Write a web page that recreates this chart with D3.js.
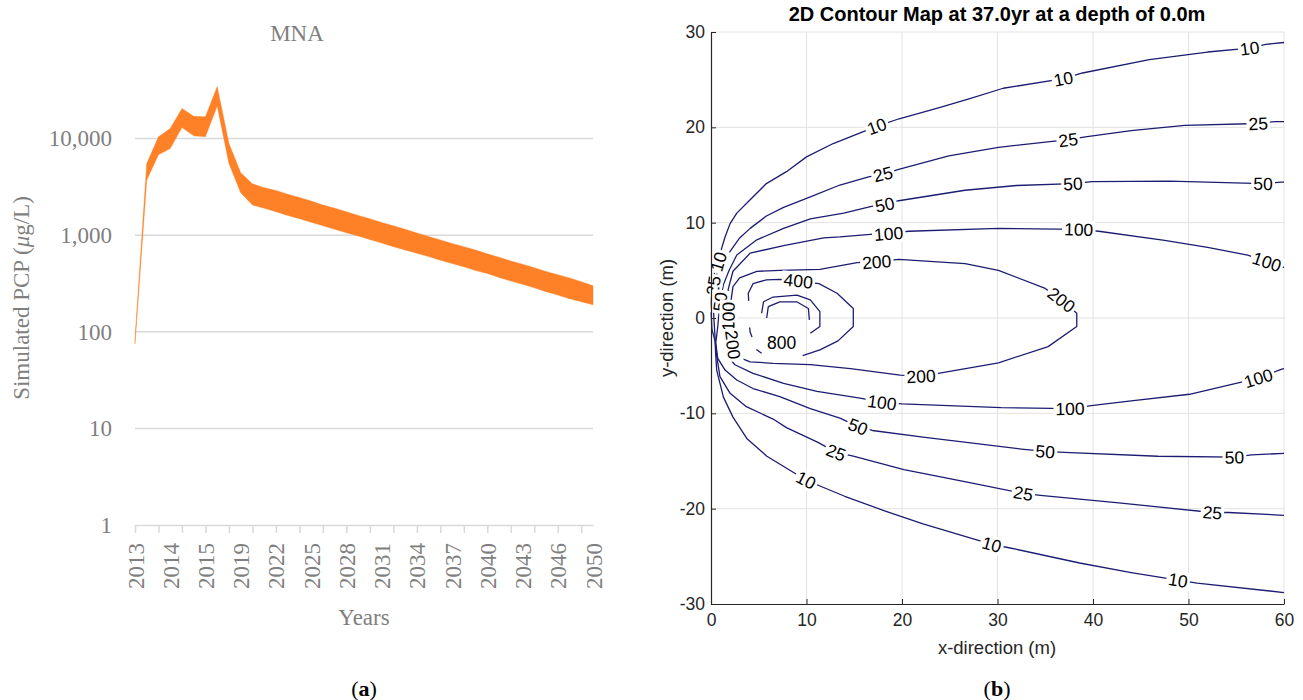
<!DOCTYPE html>
<html>
<head>
<meta charset="utf-8">
<script src="https://cdn.jsdelivr.net/npm/d3@7"></script>
<style>
  body { margin: 0; background: #fff; }
  svg { display: block; }
</style>
</head>
<body>
<svg id="fig" width="1303" height="700"></svg>
<script>
// ---------- (a) MNA: simulated PCP band ----------
const years = ['2013','2013','2013','2014','2014','2014','2015','2015','2016',
  '2019','2020','2021','2022','2023','2024','2025','2026','2027','2028','2029',
  '2030','2031','2032','2033','2034','2035','2036','2037','2038','2039',
  '2040','2041','2042','2043','2044','2045','2046','2047','2048','2050'];
const pcpUpper = [85, 5500, 10400, 12700, 20500, 17000, 16800, 34500, 8900, 4430,
  3400, 3100, 2900, 2650, 2450, 2250, 2050, 1900, 1750, 1600,
  1480, 1350, 1250, 1150, 1050, 970, 890, 820, 760, 700,
  640, 590, 540, 500, 460, 420, 390, 360, 330, 300];
const pcpLower = [75, 3730, 6770, 7900, 13000, 10650, 10440, 21700, 5520, 2750,
  2050, 1900, 1750, 1600, 1480, 1360, 1250, 1150, 1060, 980,
  900, 830, 760, 700, 650, 600, 550, 510, 470, 430,
  400, 365, 335, 310, 285, 260, 240, 220, 205, 190];
const pcpTicks = [1, 10, 100, 1000, 10000];

// ---------- (b) 2D contour map (x, y in m) ----------
const contour10 = [[60,-28.8],[50.9,-27.8],[48.9,-27.5],[44,-26.7],[38.6,-25.7],[31.2,-24.1],[29.4,-23.75],
  [22.2,-21.6],[18.1,-20.2],[14.0,-18.7],[11.6,-17.7],[9.95,-17.0],[8.3,-16.0],[5.85,-14.5],[3.8,-12.7],
  [2.3,-10.4],[1.3,-8.3],[0.6,-5.5],[0.5,-4.0],[0.42,-2.4],[0.1,-1.2],[0.02,0.5],[0.05,2.5],[0.2,4.2],
  [0.77,5.9],[1.05,7.1],[1.47,8.5],[2.0,9.9],[2.7,11.0],[4.1,12.4],[5.8,14.1],[7.9,15.35],[10.0,16.9],
  [12.8,18.3],[15.95,19.55],[17.35,20.1],[19.7,20.9],[24.0,22.1],[27.1,23.0],[30.6,24.1],[36.9,25.1],
  [38.9,25.7],[45.9,27.1],[52.0,27.9],[56.4,28.3],[58.1,28.7],[60,28.9]];
const contour25 = [[60,-20.7],[54.2,-20.4],[52.5,-20.4],[42.7,-19.4],[34.5,-18.6],[32.7,-18.4],[26.3,-17.1],
  [20.2,-15.9],[14.9,-14.5],[13.1,-14.1],[11.2,-13.05],[7.9,-11.5],[6.5,-10.6],[3.7,-9.3],[2.0,-7.9],
  [0.94,-6.15],[0.6,-4.0],[0.45,-2.4],[0.3,0],[0.22,2.2],[0.24,3.4],[0.6,4.6],[1.2,5.6],[2.0,7.0],
  [3.0,8.4],[4.1,9.4],[5.8,10.7],[7.6,11.6],[10.4,12.7],[13.5,13.95],[16.5,14.8],[18.0,15.1],[19.65,15.6],
  [24.9,17.0],[30.1,17.9],[37.4,18.7],[39.2,19.0],[44.0,19.65],[49.6,20.2],[57.3,20.4],[59.0,20.6],[60,20.6]];
const contour50 = [[60,-14.2],[56.6,-14.35],[54.8,-14.6],[46.8,-14.5],[37.0,-14.1],[35.0,-14.0],[32.5,-13.75],
  [22.2,-12.5],[16.9,-11.8],[15.4,-11.4],[13.5,-10.5],[10.4,-9.5],[7.2,-8.25],[4.4,-7.4],[2.7,-6.5],
  [1.47,-5.46],[0.7,-4.2],[0.5,-2.6],[0.7,-1.0],[0.94,1.7],[1.3,3.5],[1.9,5.0],[2.7,6.6],[4.8,8.2],
  [7.6,9.4],[10.4,10.4],[13.9,11.0],[16.8,11.7],[18.2,11.9],[19.65,12.3],[26.6,13.4],[32.0,13.9],
  [37.9,14.1],[39.9,14.3],[48.0,14.35],[57.8,14.1],[59.7,14.25],[60,14.25]];
const contour100 = [[60,-5.3],[59.7,-5.4],[57.3,-6.3],[55.2,-6.8],[50.1,-8.0],[44.0,-8.7],[39.8,-9.2],
  [37.6,-9.5],[30.4,-9.4],[20.0,-9.0],[17.9,-8.85],[15.6,-8.4],[11.1,-7.7],[7.6,-6.85],[4.4,-5.8],
  [2.5,-4.9],[1.9,-4.2],[1.6,-3.0],[1.7,-1.5],[1.8,0.15],[1.8,3.0],[2.3,4.9],[4.1,6.8],[7.6,7.6],
  [11.8,8.4],[13.5,8.5],[17.0,8.8],[18.6,8.85],[20.7,9.1],[30.1,9.4],[38.5,9.3],[40.6,9.1],[47.5,8.15],
  [52.0,7.4],[56.2,6.6],[58.2,5.9],[60,5.3]];
const contour200 = [[2.3,-2.8],[2.6,-4.0],[4.1,-4.6],[6.5,-4.75],[10.4,-4.9],[14.6,-5.3],[19.8,-6.0],
  [22.0,-6.1],[23.8,-5.8],[30.1,-4.7],[35.3,-3.0],[38.3,-0.9],[38.3,0.5],[36.7,1.9],[35.0,3.1],
  [30.1,5.0],[26.6,5.7],[19.65,6.15],[17.35,5.9],[15.3,5.8],[11.4,5.1],[7.2,5.0],[4.8,4.9],[3.0,4.2],
  [2.3,3.3],[2.05,1.5],[2.1,0],[2.3,-2.8]];
const contour400 = [[9.6,-3.95],[11.4,-3.35],[13.3,-2.4],[14.9,-0.9],[14.9,1.0],[13.2,2.6],[11.3,3.6],
  [9.14,3.9],[7.2,4.05],[5.8,4.0],[4.4,3.6],[3.9,2.6],[3.95,1.8]];
const contour400b = [[4.05,-1.0],[4.1,-1.5],[4.3,-2.0]];
const contour400c = [[4.75,-3.3],[5.3,-3.7]];
const contour800 = [[10.4,-1.6],[11.4,-0.9],[11.4,0.66],[10.4,1.9],[9.0,2.4],[6.5,2.2],[5.5,1.7],[5.3,0.5]];
const contour1600 = [[10.3,-0.2],[10.2,1.0],[8.97,1.7],[7.2,1.7],[6.0,1.2],[5.83,0]];

// [level, x, y]
const contourLabels = [
  [10,0.77,5.9],[10,17.35,20.1],[10,36.9,25.1],[10,56.4,28.3],[10,9.95,-17.0],[10,29.4,-23.75],[10,48.9,-27.5],
  [25,0.24,3.4],[25,18.0,15.1],[25,37.4,18.7],[25,57.3,20.4],[25,13.1,-14.1],[25,32.7,-18.4],[25,52.5,-20.4],
  [50,0.94,1.7],[50,18.2,11.9],[50,37.9,14.1],[50,57.8,14.1],[50,15.4,-11.4],[50,35.0,-14.0],[50,54.8,-14.6],
  [100,1.8,0.15],[100,18.6,8.85],[100,38.5,9.3],[100,58.2,5.9],[100,17.9,-8.85],[100,37.6,-9.5],[100,57.3,-6.3],
  [200,2.3,-2.8],[200,17.35,5.9],[200,36.7,1.9],[200,22.0,-6.1],
  [400,9.14,3.9],
  [800,7.4,-2.6]
];
const xTicksB = [0, 10, 20, 30, 40, 50, 60];
const yTicksB = [-30, -20, -10, 0, 10, 20, 30];

const contourLines = [
  { level: 10, pts: contour10 }, { level: 25, pts: contour25 }, { level: 50, pts: contour50 },
  { level: 100, pts: contour100 }, { level: 200, pts: contour200 },
  { level: 400, pts: contour400 }, { level: 400, pts: contour400b }, { level: 400, pts: contour400c },
  { level: 800, pts: contour800 }, { level: 1600, pts: contour1600 }
];

const svg = d3.select('#fig');
const greyA = '#7f7f7f';
const serif = '"Liberation Serif", "Times New Roman", serif';
const sans = '"Liberation Sans", Arial, sans-serif';

// ================= panel (a) =================
const gA = svg.append('g');
const xA = d3.scalePoint().domain(d3.range(years.length)).range([135, 593]);
const yA = d3.scaleLog().domain([1, 10000]).range([525, 138.5]);

// gridlines
gA.append('g')
  .selectAll('line')
  .data(pcpTicks.slice(1))
  .join('line')
  .attr('x1', 135).attr('x2', 593)
  .attr('y1', d => yA(d)).attr('y2', d => yA(d))
  .attr('stroke', '#d9d9d9').attr('stroke-width', 1.5);

// band
const band = d3.area()
  .x((d, i) => xA(i))
  .y0((d, i) => yA(pcpLower[i]))
  .y1((d, i) => yA(pcpUpper[i]));
gA.append('path')
  .datum(years)
  .attr('d', band)
  .attr('fill', '#fe8027')
  .attr('stroke', '#fe8027')
  .attr('stroke-width', 0.4);

// y axis labels
const yAxisA = gA.append('g')
  .attr('transform', 'translate(135,0)')
  .call(d3.axisLeft(yA).tickValues(pcpTicks).tickFormat(d3.format(',')).tickSize(0).tickPadding(23));
yAxisA.select('.domain').remove();
yAxisA.selectAll('text').attr('fill', greyA).style('font-family', serif).style('font-size', '23px');

// x tick marks (every 2nd category)
const xTickA = gA.append('g')
  .attr('transform', 'translate(0,525)')
  .call(d3.axisBottom(xA).tickValues(d3.range(0, years.length, 2)).tickFormat('').tickSize(8).tickSizeOuter(0));
xTickA.selectAll('line').attr('stroke', '#d9d9d9').attr('stroke-width', 1.5);
xTickA.select('.domain').attr('stroke', '#d9d9d9').attr('stroke-width', 1.5);

// x labels (every 3rd category)
const xLabA = gA.append('g')
  .attr('transform', 'translate(0,525)')
  .call(d3.axisBottom(xA).tickValues(d3.range(0, years.length, 3)).tickFormat(i => years[i]).tickSize(0));
xLabA.select('.domain').remove();
xLabA.selectAll('text')
  .attr('fill', greyA)
  .style('font-family', serif).style('font-size', '23px')
  .attr('y', 0).attr('x', -18).attr('dy', '0.35em')
  .attr('transform', 'rotate(-90)')
  .style('text-anchor', 'end');

gA.append('text')
  .attr('x', 297).attr('y', 41)
  .attr('text-anchor', 'middle')
  .attr('fill', greyA).style('font-family', serif).style('font-size', '23px')
  .text('MNA');

gA.append('text')
  .attr('x', 364).attr('y', 625)
  .attr('text-anchor', 'middle')
  .attr('fill', greyA).style('font-family', serif).style('font-size', '23px')
  .text('Years');

const yTitleA = gA.append('text')
  .attr('transform', 'translate(29,298) rotate(-90)')
  .attr('text-anchor', 'middle')
  .attr('fill', greyA).style('font-family', serif).style('font-size', '23px');
yTitleA.append('tspan').text('Simulated PCP (');
yTitleA.append('tspan').style('font-style', 'italic').text('μ');
yTitleA.append('tspan').text('g/L)');

// ================= panel (b) =================
const gB = svg.append('g');
const xB = d3.scaleLinear().domain([0, 60]).range([711, 1284]);
const yB = d3.scaleLinear().domain([-30, 30]).range([604, 32]);
const ink = '#262626';
const lineCol = '#1c1c72';

// grid
gB.append('g').selectAll('line')
  .data(xTicksB.slice(1))
  .join('line')
  .attr('x1', d => xB(d)).attr('x2', d => xB(d))
  .attr('y1', yB(-30)).attr('y2', yB(30))
  .attr('stroke', '#e2e2e2').attr('stroke-width', 1);
gB.append('g').selectAll('line')
  .data(yTicksB.slice(1))
  .join('line')
  .attr('x1', xB(0)).attr('x2', xB(60))
  .attr('y1', d => yB(d)).attr('y2', d => yB(d))
  .attr('stroke', '#e2e2e2').attr('stroke-width', 1);

// contour lines
const cLine = d3.line().x(d => xB(d[0])).y(d => yB(d[1])).curve(d3.curveLinear);
gB.append('g').selectAll('path')
  .data(contourLines)
  .join('path')
  .attr('d', d => cLine(d.pts))
  .attr('fill', 'none')
  .attr('stroke', lineCol)
  .attr('stroke-width', 1.3)
  .attr('stroke-linejoin', 'round');

// label angle from the line through the label vertex
function labelAngle(level, lx, ly) {
  for (const c of contourLines) {
    if (c.level !== level) continue;
    const p = c.pts;
    const i = p.findIndex(q => q[0] === lx && q[1] === ly);
    if (i < 0) continue;
    const closed = p[0][0] === p[p.length - 1][0] && p[0][1] === p[p.length - 1][1];
    const a = i > 0 ? p[i - 1] : (closed ? p[p.length - 2] : p[i]);
    const b = i < p.length - 1 ? p[i + 1] : p[i];
    let ang = Math.atan2(yB(b[1]) - yB(a[1]), xB(b[0]) - xB(a[0])) * 180 / Math.PI;
    if (ang > 90) ang -= 180;
    if (ang < -90) ang += 180;
    return ang;
  }
  return 0;
}

const labG = gB.append('g').selectAll('g')
  .data(contourLabels)
  .join('g')
  .attr('transform', d => `translate(${xB(d[1])},${yB(d[2])}) rotate(${labelAngle(d[0], d[1], d[2])})`);
labG.append('rect').attr('fill', '#fff');
labG.append('text')
  .attr('text-anchor', 'middle')
  .attr('dy', '0.36em')
  .attr('fill', '#000')
  .style('font-family', sans).style('font-size', '17.5px')
  .text(d => d[0]);
labG.each(function () {
  const g = d3.select(this);
  const bb = g.select('text').node().getBBox();
  g.select('rect')
    .attr('x', bb.x - 2).attr('y', bb.y + 1)
    .attr('width', bb.width + 4).attr('height', bb.height - 2);
});

// axes (box off, ticks inside)
const xAxisB = gB.append('g')
  .attr('transform', `translate(0,${yB(-30)})`)
  .call(d3.axisBottom(xB).tickValues(xTicksB).tickFormat(d => String(d))
    .tickSize(-5).tickSizeOuter(0).tickPadding(10));
const yAxisB = gB.append('g')
  .attr('transform', `translate(${xB(0)},0)`)
  .call(d3.axisLeft(yB).tickValues(yTicksB).tickFormat(d => String(d))
    .tickSize(-5).tickSizeOuter(0).tickPadding(6));
[xAxisB, yAxisB].forEach(ax => {
  ax.select('.domain').attr('stroke', ink).attr('stroke-width', 1.2);
  ax.selectAll('line').attr('stroke', ink);
  ax.selectAll('text').attr('fill', ink).style('font-family', sans).style('font-size', '17.5px');
});

gB.append('text')
  .attr('x', 997).attr('y', 21)
  .attr('text-anchor', 'middle')
  .attr('fill', '#000').style('font-family', sans).style('font-size', '20px').style('font-weight', 'bold')
  .text('2D Contour Map at 37.0yr at a depth of 0.0m');

gB.append('text')
  .attr('x', 997).attr('y', 654)
  .attr('text-anchor', 'middle')
  .attr('fill', ink).style('font-family', sans).style('font-size', '18.5px')
  .text('x-direction (m)');

gB.append('text')
  .attr('transform', 'translate(673,318) rotate(-90)')
  .attr('text-anchor', 'middle')
  .attr('fill', ink).style('font-family', sans).style('font-size', '18.5px')
  .text('y-direction (m)');

// sub-figure captions
[['a', 364], ['b', 997]].forEach(([letter, cx]) => {
  const t = svg.append('text')
    .attr('x', cx).attr('y', 696)
    .attr('text-anchor', 'middle')
    .attr('fill', '#000').style('font-family', serif).style('font-size', '22px');
  t.append('tspan').text('(');
  t.append('tspan').style('font-weight', 'bold').text(letter);
  t.append('tspan').text(')');
});
</script>
</body>
</html>
